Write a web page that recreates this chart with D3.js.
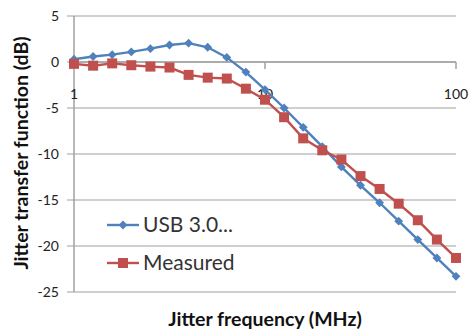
<!DOCTYPE html>
<html lang="en">
<head>
<meta charset="UTF-8">
<title>Jitter transfer function</title>
<script src="https://d3js.org/d3.v7.min.js"></script>
<style>
    body { margin: 0; background: #fff; }
    svg { display: block; font-family: Lato, "Open Sans", sans-serif; }
    .grid line { stroke: #a0a0a0; stroke-width: 1.2; }
    .axis-line { stroke: #a0a0a0; stroke-width: 1.5; }
    .tick-label { font-size: 14px; fill: #222; }
    .title { font-size: 19.5px; font-weight: bold; fill: #111; }
    .legend-text { font-size: 21px; fill: #333; }
</style>
</head>
<body>
<svg id="chart" width="474" height="332"></svg>
<script>
// frequencies in MHz, 10 points per decade
const freq = d3.range(0, 21).map(k => Math.pow(10, k / 10));
const usb = [0.3, 0.6, 0.8, 1.1, 1.45, 1.85, 2.05, 1.6, 0.5, -1.1, -3.0,
             -5.0, -7.1, -9.2, -11.4, -13.4, -15.3, -17.3, -19.3, -21.3, -23.3];
const measured = [-0.2, -0.4, -0.15, -0.35, -0.5, -0.6, -1.4, -1.7, -1.8, -2.9, -4.1,
                  -6.0, -8.3, -9.6, -10.6, -12.4, -13.8, -15.4, -17.2, -19.3, -21.3];
const yTicks = [5, 0, -5, -10, -15, -20, -25];
const xTicks = [1, 10, 100];
const seriesNames = ["USB 3.0...", "Measured"];

const svg = d3.select("#chart");
const x = d3.scaleLog().domain([1, 100]).range([74, 456]);
const y = d3.scaleLinear().domain([-25, 5]).range([292, 16]);

// horizontal gridlines (extend left as tick marks)
svg.append("g").attr("class", "grid")
    .selectAll("line").data(yTicks).join("line")
    .attr("x1", 67).attr("x2", x(100))
    .attr("y1", d => y(d)).attr("y2", d => y(d));

// y axis line
svg.append("line").attr("class", "axis-line")
    .attr("x1", x(1)).attr("x2", x(1))
    .attr("y1", y(5)).attr("y2", y(-25));

// x axis at 0 with downward ticks
svg.append("line").attr("class", "axis-line")
    .attr("x1", x(1)).attr("x2", x(100))
    .attr("y1", y(0)).attr("y2", y(0));
svg.selectAll(".xtick").data(xTicks).join("line")
    .attr("class", "axis-line")
    .attr("x1", d => x(d)).attr("x2", d => x(d))
    .attr("y1", y(0)).attr("y2", y(0) + 7);

// tick labels
svg.selectAll(".ylab").data(yTicks).join("text")
    .attr("class", "tick-label")
    .attr("x", 59).attr("y", d => y(d) + 5)
    .attr("text-anchor", "end")
    .text(d => d);
svg.selectAll(".xlab").data(xTicks).join("text")
    .attr("class", "tick-label")
    .attr("x", d => x(d)).attr("y", y(0) + 37)
    .attr("text-anchor", "middle")
    .text(d => d);

// axis titles
svg.append("text").attr("class", "title")
    .attr("x", 265).attr("y", 326)
    .attr("text-anchor", "middle")
    .text("Jitter frequency (MHz)");
svg.append("text").attr("class", "title")
    .attr("transform", "translate(28,153) rotate(-90)")
    .attr("text-anchor", "middle")
    .text("Jitter transfer function (dB)");

const line = d3.line().x(d => x(d[0])).y(d => y(d[1]));
const blue = "#4f81bd", red = "#c0504d";
const diamond = d3.symbol().type(d3.symbolDiamond2).size(50);
const square = d3.symbol().type(d3.symbolSquare).size(100);

function drawSeries(vals, color, sym) {
    const pts = freq.map((f, i) => [f, vals[i]]);
    svg.append("path").datum(pts)
        .attr("fill", "none").attr("stroke", color).attr("stroke-width", 2.4)
        .attr("d", line);
    svg.append("g").selectAll("path").data(pts).join("path")
        .attr("transform", d => `translate(${x(d[0])},${y(d[1])})`)
        .attr("d", sym).attr("fill", color);
}
drawSeries(usb, blue, diamond);
drawSeries(measured, red, square);

// legend
const legend = [[seriesNames[0], blue, diamond, 225], [seriesNames[1], red, square, 263]];
legend.forEach(([name, color, sym, ly]) => {
    svg.append("line").attr("x1", 107).attr("x2", 139).attr("y1", ly).attr("y2", ly)
        .attr("stroke", color).attr("stroke-width", 2.4);
    svg.append("path").attr("transform", `translate(123,${ly})`).attr("d", sym).attr("fill", color);
    svg.append("text").attr("class", "legend-text")
        .attr("x", 143).attr("y", ly + 7).text(name);
});
</script>
</body>
</html>
